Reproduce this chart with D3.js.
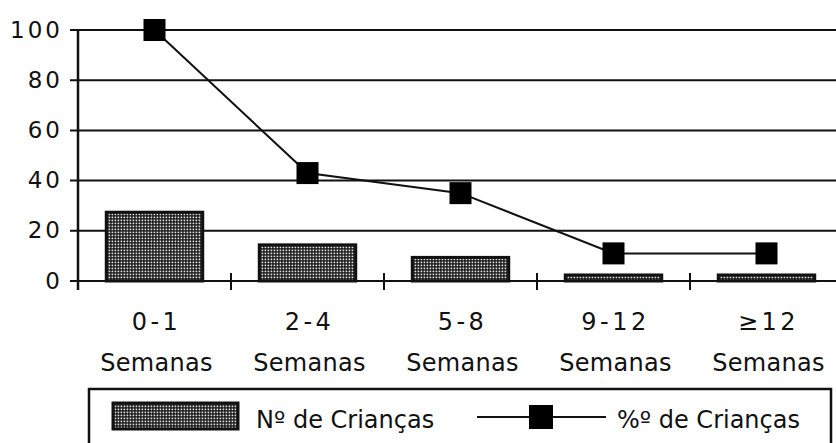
<!DOCTYPE html>
<html>
<head>
<meta charset="utf-8">
<script src="https://cdn.jsdelivr.net/npm/d3@7"></script>
<style>
  body { margin: 0; background: #fff; }
  svg { display: block; }
  text { font-family: "DejaVu Sans", Verdana, sans-serif; fill: #111; }
</style>
</head>
<body>
<script>
// data
const categories = ["0-1", "2-4", "5-8", "9-12", "≥12"];
const nCriancas = [28, 15, 10, 3, 3];
const pctCriancas = [100, 43, 35, 11, 11];
const yTicks = [0, 20, 40, 60, 80, 100];
const subLabel = "Semanas";
const legendLabels = ["Nº de Crianças", "%º de Crianças"];

let width = 836, height = 443;
const svg = d3.select("body").append("svg")
  .attr("width", width).attr("height", height);

// stipple pattern for the bars
const defs = svg.append("defs");
const pat = defs.append("pattern").attr("id", "dots")
  .attr("patternUnits", "userSpaceOnUse").attr("width", 3).attr("height", 3);
pat.append("rect").attr("width", 3).attr("height", 3).attr("fill", "#1a1a1a");
pat.append("rect").attr("x", 0.6).attr("y", 0.6).attr("width", 1.6).attr("height", 1.6).attr("fill", "#e8e8e8");

let xScale = d3.scaleBand().domain(categories).range([78, 843]).paddingInner(0.35).paddingOuter(0.175);
let yScale = d3.scaleLinear().domain([0, 100]).range([281, 30]);

// gridlines
svg.append("g").selectAll("line").data(yTicks).enter().append("line")
  .attr("x1", 70).attr("x2", width)
  .attr("y1", d => yScale(d)).attr("y2", d => yScale(d))
  .attr("stroke", "#111").attr("stroke-width", 2);

// y axis line
svg.append("line").attr("x1", 78).attr("x2", 78).attr("y1", yScale(100)).attr("y2", 290)
  .attr("stroke", "#111").attr("stroke-width", 2.5);

// y tick labels
svg.append("g").selectAll("text").data(yTicks).enter().append("text")
  .attr("x", 63).attr("y", d => yScale(d) + 7.5)
  .attr("text-anchor", "end")
  .style("font-size", "23px").style("letter-spacing", "3px")
  .text(d => d);

// x tick marks at band boundaries
const step = xScale.step();
svg.append("g").selectAll("line").data(categories.slice(1)).enter().append("line")
  .attr("x1", (d, i) => 78 + step * (i + 1)).attr("x2", (d, i) => 78 + step * (i + 1))
  .attr("y1", 273).attr("y2", 290)
  .attr("stroke", "#111").attr("stroke-width", 2);

// bars
svg.append("g").selectAll("rect").data(nCriancas).enter().append("rect")
  .attr("x", (d, i) => xScale(categories[i]) + 1.5)
  .attr("width", xScale.bandwidth() - 3)
  .attr("y", d => yScale(d) + 1.5)
  .attr("height", d => yScale(0) - yScale(d) - 1.5)
  .attr("fill", "url(#dots)")
  .attr("stroke", "#111").attr("stroke-width", 3);

// line + markers
const cx = c => xScale(c) + xScale.bandwidth() / 2;
const line = d3.line().x((d, i) => cx(categories[i])).y(d => yScale(d));
svg.append("path").datum(pctCriancas).attr("d", line)
  .attr("fill", "none").attr("stroke", "#111").attr("stroke-width", 2);
svg.append("g").selectAll("rect").data(pctCriancas).enter().append("rect")
  .attr("x", (d, i) => cx(categories[i]) - 11).attr("y", d => yScale(d) - 11)
  .attr("width", 22).attr("height", 22).attr("fill", "#000");

// category labels
const lab = svg.append("g").selectAll("g").data(categories).enter().append("g")
  .attr("transform", d => `translate(${cx(d) + 2},0)`);
lab.append("text").attr("y", 330).attr("text-anchor", "middle")
  .style("font-size", "24px").style("letter-spacing", "3.5px").text(d => d);
lab.append("text").attr("y", 371).attr("text-anchor", "middle")
  .style("font-size", "24px").style("letter-spacing", "0.3px").text(subLabel);

// legend
const leg = svg.append("g");
leg.append("rect").attr("x", 89).attr("y", 389).attr("width", 742).attr("height", 100)
  .attr("fill", "none").attr("stroke", "#111").attr("stroke-width", 2.5);
leg.append("rect").attr("x", 113).attr("y", 403).attr("width", 125).attr("height", 26)
  .attr("fill", "url(#dots)").attr("stroke", "#111").attr("stroke-width", 3);
leg.append("text").attr("x", 256).attr("y", 428)
  .style("font-size", "24px").text(legendLabels[0]);
leg.append("line").attr("x1", 477).attr("x2", 606).attr("y1", 417).attr("y2", 417)
  .attr("stroke", "#111").attr("stroke-width", 2);
leg.append("rect").attr("x", 529).attr("y", 405).attr("width", 24).attr("height", 24).attr("fill", "#000");
leg.append("text").attr("x", 617).attr("y", 428)
  .style("font-size", "24px").text(legendLabels[1]);
</script>
</body>
</html>
